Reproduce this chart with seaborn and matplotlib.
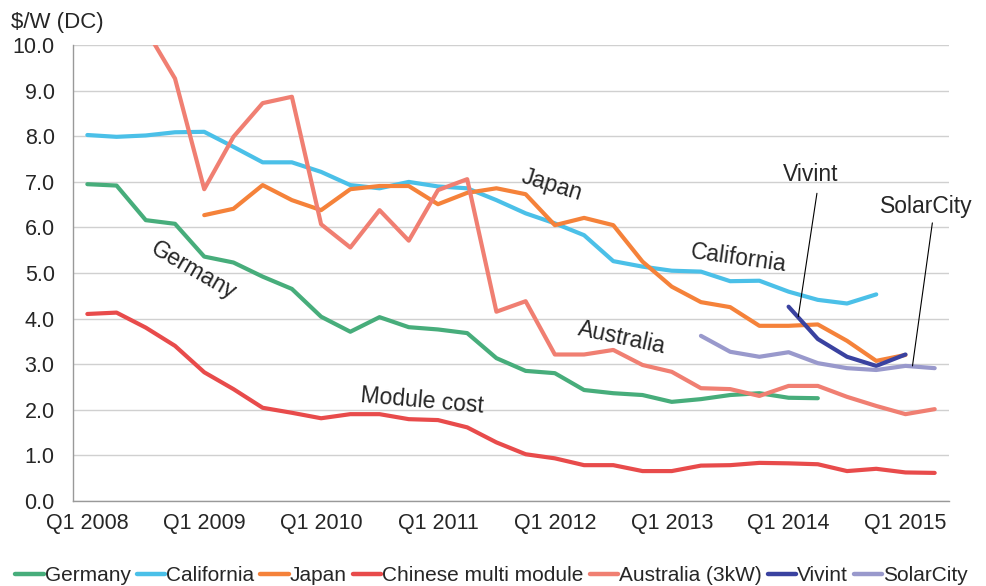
import numpy as np
import pandas as pd
import matplotlib
matplotlib.use("Agg")
import matplotlib.pyplot as plt
import seaborn as sns

# quarters Q1 2008 .. Q2 2015
quarters = ["Q%d %d" % (q, y) for y in range(2008, 2016) for q in range(1, 5)][:30]

germany = [6.95, 6.92, 6.16, 6.08, 5.36, 5.23, 4.92, 4.65, 4.04, 3.71, 4.03, 3.81, 3.76,
           3.68, 3.13, 2.85, 2.80, 2.43, 2.36, 2.32, 2.17, 2.23, 2.32, 2.36, 2.26, 2.25]
california = [8.03, 7.99, 8.02, 8.09, 8.10, 7.77, 7.43, 7.43, 7.22, 6.93, 6.86, 7.00, 6.90,
              6.86, 6.60, 6.31, 6.09, 5.83, 5.26, 5.14, 5.05, 5.03, 4.82, 4.83, 4.59, 4.41,
              4.33, 4.53]
japan = [6.27, 6.41, 6.93, 6.60, 6.38, 6.84, 6.91, 6.91, 6.51, 6.76, 6.86, 6.73, 6.05,
         6.21, 6.05, 5.25, 4.70, 4.36, 4.25, 3.84, 3.84, 3.87, 3.51, 3.07, 3.20]
chinese = [4.10, 4.13, 3.80, 3.40, 2.82, 2.45, 2.04, 1.93, 1.81, 1.90, 1.90, 1.79, 1.77,
           1.61, 1.28, 1.02, 0.93, 0.78, 0.78, 0.65, 0.65, 0.77, 0.78, 0.83, 0.82, 0.80,
           0.65, 0.70, 0.62, 0.61]
australia = [10.35, 9.27, 6.84, 7.99, 8.73, 8.87, 6.07, 5.56, 6.38, 5.71, 6.82, 7.06, 4.15,
             4.38, 3.21, 3.21, 3.31, 2.98, 2.83, 2.47, 2.45, 2.30, 2.52, 2.52, 2.28, 2.08,
             1.90, 2.01]
vivint = [4.26, 3.55, 3.16, 2.96, 3.21]
solarcity = [3.62, 3.27, 3.16, 3.26, 3.02, 2.91, 2.87, 2.96, 2.91]

# (name, first quarter index, values, colour)
series = [
    ("Germany", 0, germany, "#47AD7B"),
    ("California", 0, california, "#4BC0E8"),
    ("Japan", 4, japan, "#F5823A"),
    ("Chinese multi module", 0, chinese, "#E84B4B"),
    ("Australia (3kW)", 2, australia, "#F07F72"),
    ("Vivint", 24, vivint, "#3A42A0"),
    ("SolarCity", 21, solarcity, "#9999CC"),
]

rows = []
for name, start, vals, col in series:
    for i, v in enumerate(vals):
        rows.append({"q": start + i, "val": v, "series": name})
df = pd.DataFrame(rows)
palette = {name: col for name, start, vals, col in series}

sns.set_style("white")
plt.rcParams["font.family"] = ["Liberation Sans", "DejaVu Sans"]

fig = plt.figure(figsize=(9.87, 5.86), dpi=100)
ax = fig.add_axes([0.0737, 0.1456, 0.8881, 0.7771])

sns.lineplot(data=df, x="q", y="val", hue="series", palette=palette,
             hue_order=[s[0] for s in series], linewidth=3.0, ax=ax, legend=True)

fs = 15.5
ax.set_xlim(-0.5, 29.5)
ax.set_ylim(0, 10)
ax.set_yticks(np.arange(0, 10.1, 1))
ax.set_yticklabels(["%.1f" % v for v in np.arange(0, 10.1, 1)], fontsize=fs)
ax.set_xticks(np.arange(-0.5, 30, 1))
ax.set_xticklabels([])
ax.set_xticks(np.arange(0, 30, 4), minor=True)
ax.set_xticklabels([quarters[i] for i in range(0, 30, 4)], minor=True, fontsize=fs)
ax.tick_params(axis="x", which="major", length=6, color="#999999", direction="out")
ax.tick_params(axis="x", which="minor", length=0, pad=9)
ax.tick_params(axis="y", length=6, color="#999999", direction="out", pad=7)
ax.set_xlabel("")
ax.set_ylabel("")
ax.grid(axis="y", color="#d0d0d0", linewidth=1)
ax.set_axisbelow(True)
for s in ["top", "right"]:
    ax.spines[s].set_visible(False)
for s in ["left", "bottom"]:
    ax.spines[s].set_color("#999999")
    ax.spines[s].set_linewidth(1)

fig.text(0.011, 0.962, "$/W (DC)", fontsize=16, ha="left", va="center")

# inline labels
lf = 16.5
ax.text(15.9, 6.93, "Japan", fontsize=lf, rotation=-17, ha="center", va="center")
ax.text(22.28, 5.32, "California", fontsize=lf, rotation=-8, ha="center", va="center")
ax.text(3.62, 5.06, "Germany", fontsize=lf, rotation=-30, ha="center", va="center")
ax.text(18.28, 3.57, "Australia", fontsize=lf, rotation=-12, ha="center", va="center")
ax.text(11.44, 2.19, "Module cost", fontsize=lf, rotation=-5, ha="center", va="center")

ax.text(24.74, 7.17, "Vivint", fontsize=lf, ha="center", va="center")
ax.annotate("", xy=(24.33, 4.04), xytext=(24.97, 6.75),
            arrowprops=dict(arrowstyle="-", color="black", lw=0.8, shrinkA=0, shrinkB=0))
ax.text(28.71, 6.47, "SolarCity", fontsize=lf, ha="center", va="center")
ax.annotate("", xy=(28.24, 2.96), xytext=(28.92, 6.10),
            arrowprops=dict(arrowstyle="-", color="black", lw=0.8, shrinkA=0, shrinkB=0))

leg = ax.legend(loc="upper center", bbox_to_anchor=(0.478, -0.125), ncol=7, frameon=False,
                fontsize=15, handlelength=1.35, handletextpad=0.05, columnspacing=0.3,
                borderaxespad=0)
for line in leg.get_lines():
    line.set_linewidth(3.2)

fig.savefig("out.png", dpi=100)
